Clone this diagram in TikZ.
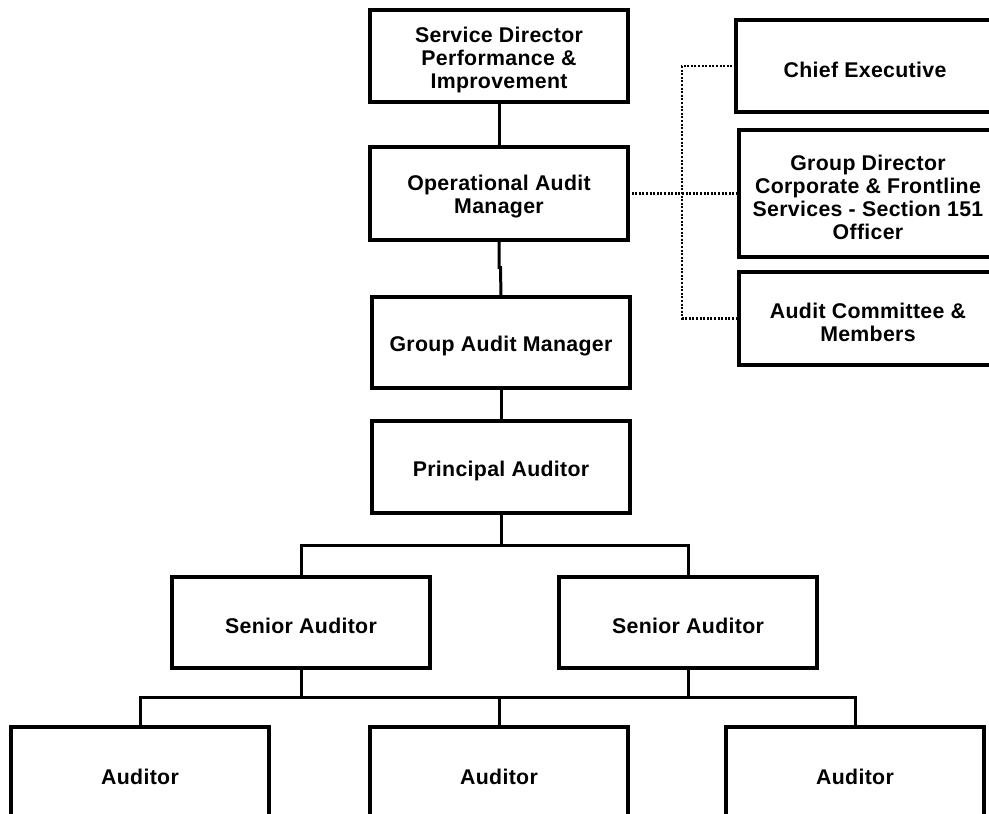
\documentclass[tikz,border=0pt]{standalone}
\usepackage{fontspec}
\setmainfont{Liberation Sans}[LetterSpace=1.5]
\begin{document}
\begin{tikzpicture}[x=1pt,y=-1pt,
  box/.style={draw=black,line width=3.3pt,fill=white,minimum width=258pt,minimum height=92pt,
    inner sep=0pt,outer sep=0pt},
  txt/.style={align=center,inner sep=0pt,yshift=-3.5pt,font=\bfseries\fontsize{21.3}{23}\selectfont},
  solidlink/.style={draw=black,line width=3pt},
  dotlink/.style={draw=black,line width=2.4pt,dash pattern=on 2pt off 1.6pt}]
\fill[white] (0,0) rectangle (989,814);
\useasboundingbox (0,0) rectangle (989,814);
\coordinate (dtop) at (682,66);
\coordinate (dbot) at (682,318.5);
% main column
\node[box] (sd) at (499,56) {};
\node[box,minimum height=93pt] (op) at (499,193.5) {};
\node[box,minimum height=91pt] (gam) at (501,342.5) {};
\node[box] (pa) at (501,467) {};
\node[box,minimum height=91pt] (sa1) at (301,622.5) {};
\node[box,minimum height=91pt] (sa2) at (688,622.5) {};
\node[box] (au1) at (140,773) {};
\node[box] (au2) at (499,773) {};
\node[box] (au3) at (855,773) {};
% right column
\node[box] (ce) at (865,66) {};
\node[box,minimum height=127pt] (gd) at (868,193.5) {};
\node[box,minimum height=93pt] (ac) at (868,318.5) {};
% texts
\node[txt] (tsd) at (sd.center) {Service Director\\Performance \&\\Improvement};
\node[txt] (top) at (op.center) {Operational Audit\\Manager};
\node[txt] (tgam) at (gam.center) {Group Audit Manager};
\node[txt] (tpa) at (pa.center) {Principal Auditor};
\node[txt] (tsa1) at (sa1.center) {Senior Auditor};
\node[txt] (tsa2) at (sa2.center) {Senior Auditor};
\node[txt] (tau1) at (au1.center) {Auditor};
\node[txt] (tau2) at (au2.center) {Auditor};
\node[txt] (tau3) at (au3.center) {Auditor};
\node[txt] (tce) at (ce.center) {Chief Executive};
\node[txt] (tgd) at (gd.center) {Group Director\\Corporate \& Frontline\\Services - Section 151\\Officer};
\node[txt] (tac) at (ac.center) {Audit Committee \&\\Members};
% dotted lines
\draw[dotlink] (op.east) -- (gd.west);
\draw[dotlink] (ce.west) -- (dtop) -- (dbot) -- (ac.west);
% solid connectors
\draw[solidlink] (sd.south) -- (op.north);
\draw[solidlink] (op.south) -- ++(0,27.5) -- ++(1.5,0) -- (gam.north);
\draw[solidlink] (gam.south) -- (pa.north);
\coordinate (b1) at (501,545);
\draw[solidlink] (pa.south) -- (b1);
\draw[solidlink] (sa1.north) |- (b1) -| (sa2.north);
\coordinate (b2) at (499,697);
\draw[solidlink] (sa1.south) -- (sa1.south |- b2);
\draw[solidlink] (sa2.south) -- (sa2.south |- b2);
\draw[solidlink] (au1.north) |- (b2) -| (au3.north);
\draw[solidlink] (b2) -- (au2.north);
\end{tikzpicture}
\end{document}
